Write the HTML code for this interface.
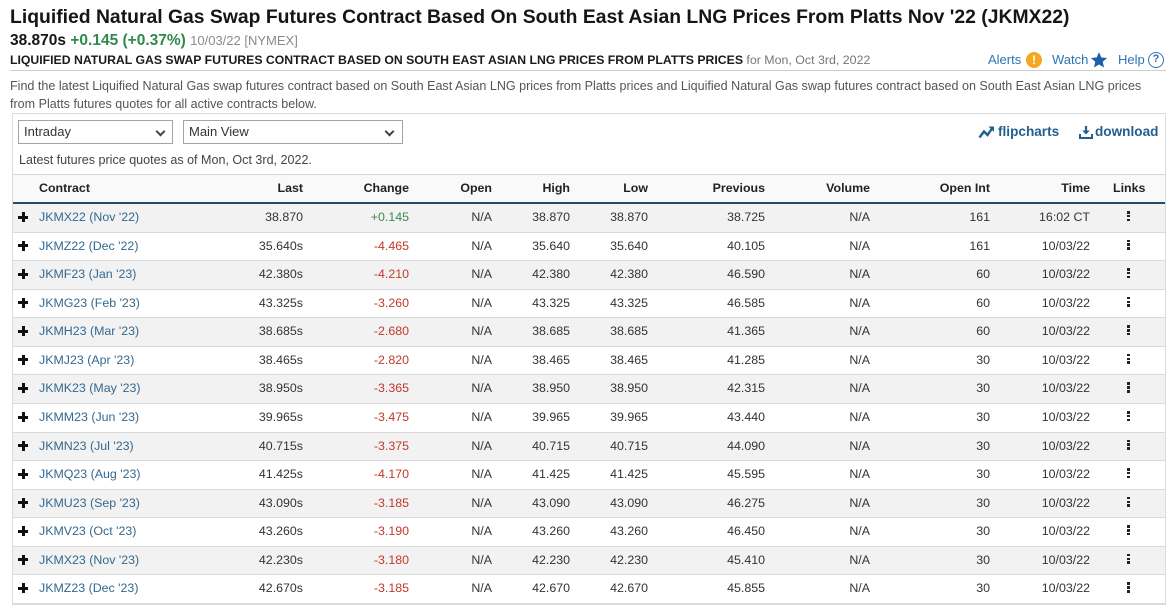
<!DOCTYPE html>
<html><head><meta charset="utf-8">
<style>
*{margin:0;padding:0;box-sizing:border-box}
body{width:1176px;height:613px;background:#fff;font-family:"Liberation Sans",Arial,sans-serif;color:#333;position:relative;overflow:hidden}
.abs{position:absolute;white-space:nowrap}
.title{left:10px;top:4px;font-size:19.35px;font-weight:bold;color:#151515;line-height:26px}
.price{left:10px;top:31px;font-size:15.5px;font-weight:bold;line-height:20px;color:#151515}
.price .g{color:#2f8a4c}
.price .d{font-weight:normal;font-size:13px;color:#8a8a8a}
.sub{left:10px;top:52px;font-size:12.25px;font-weight:bold;color:#1a1a1a;line-height:16px}
.sub span{font-weight:normal;color:#777;font-size:12.4px}
.hr{left:10px;top:70px;width:1156px;height:1px;background:#cfcfcf}
.tools{top:52px;font-size:13px;color:#2f74b5;line-height:16px}
.desc{left:10px;top:77px;font-size:12.55px;color:#555;line-height:18px}
.box{left:12px;top:113px;width:1154px;height:492px;border:1px solid #dcdcdc}
.sel{height:24px;border:1px solid #a5a5a5;font-size:13px;color:#333;line-height:22px;padding-left:5px;background:#fff}
.chev{position:absolute;top:7px;width:7px;height:7px;border-right:2.5px solid #444;border-bottom:2.5px solid #444;transform:rotate(45deg)}
.latest{left:19px;top:152px;font-size:12.55px;color:#444;line-height:16px}
.act{top:124px;font-size:13.6px;font-weight:bold;color:#1f5f8e;line-height:16px}
.thead{left:13px;top:174px;width:1152px;height:30px;border-top:1px solid #d8d8d8;border-bottom:2px solid #1f4d6b;background:#f9f9f9;display:flex;font-weight:bold;font-size:12.4px;color:#222;line-height:27px}
.row{position:absolute;left:13px;width:1152px;height:28.57px;border-bottom:1px solid #dadada;display:flex;font-size:12.4px;color:#333;line-height:26px}
.row.o{background:#f2f2f2}
.c{flex:none;text-align:right;white-space:nowrap;position:relative}
.c0{width:187px;text-align:left;padding-left:26px}
.c1{width:103px}.c2{width:106px}.c3{width:83px}.c4{width:78px}.c5{width:78px}.c6{width:117px}.c7{width:105px}.c8{width:120px}.c9{width:100px}.c10{width:75px;text-align:left;padding-left:23px}
.row .c0{color:#34698f}
.up{color:#3a8a4e}.dn{color:#c0392b}
.plus{position:absolute;left:5px;top:8px;width:10px;height:10px}
.plus:before{content:"";position:absolute;left:0;top:3.5px;width:10px;height:3px;background:#111}
.plus:after{content:"";position:absolute;left:3.5px;top:0;width:3px;height:10px;background:#111}
.dots{position:absolute;left:37px;top:7px;width:3px;height:10px}
.dots i{display:block;width:3px;height:2.5px;background:#222;margin-bottom:1.3px}
</style></head><body>

<div class="abs title">Liquified Natural Gas Swap Futures Contract Based On South East Asian LNG Prices From Platts Nov '22 (JKMX22)</div>
<div class="abs price">38.870s <span class="g">+0.145 (+0.37%)</span> <span class="d">10/03/22 [NYMEX]</span></div>
<div class="abs sub">LIQUIFIED NATURAL GAS SWAP FUTURES CONTRACT BASED ON SOUTH EAST ASIAN LNG PRICES FROM PLATTS PRICES <span>for Mon, Oct 3rd, 2022</span></div>

<div class="abs tools" style="left:988px">Alerts</div>
<div class="abs" style="left:1026px;top:52px;width:16px;height:16px;border-radius:50%;background:#f5a623;color:#fff;font-weight:bold;font-size:12px;text-align:center;line-height:16px">!</div>
<div class="abs tools" style="left:1052px">Watch</div>
<svg class="abs" style="left:1090px;top:51px" width="18" height="18" viewBox="0 0 24 24"><path d="M12 1.5l3.1 7.1 7.7.7-5.8 5.1 1.7 7.6L12 18l-6.7 4 1.7-7.6L1.2 9.3l7.7-.7z" fill="#1d5fa6"/></svg>
<div class="abs tools" style="left:1118px">Help</div>
<div class="abs" style="left:1148px;top:52px;width:16px;height:16px;border-radius:50%;border:1.6px solid #2f74b5;color:#2f74b5;font-weight:bold;font-size:11px;text-align:center;line-height:13px">?</div>
<div class="abs hr"></div>

<div class="abs desc">Find the latest Liquified Natural Gas swap futures contract based on South East Asian LNG prices from Platts prices and Liquified Natural Gas swap futures contract based on South East Asian LNG prices<br>from Platts futures quotes for all active contracts below.</div>

<div class="abs box"></div>
<div class="abs sel" style="left:18px;top:120px;width:155px">Intraday<span class="chev" style="left:138px"></span></div>
<div class="abs sel" style="left:183px;top:120px;width:220px">Main View<span class="chev" style="left:202px"></span></div>
<div class="abs latest">Latest futures price quotes as of Mon, Oct 3rd, 2022.</div>

<svg class="abs" style="left:978px;top:125px" width="17" height="14" viewBox="0 0 17 14"><path d="M1.5 12.5L6 6.5l3.5 3.5L14 3.5" stroke="#1f5f8e" stroke-width="2.4" fill="none"/><path d="M10.5 1.5h5.5v5.5z" fill="#1f5f8e"/></svg>
<div class="abs act" style="left:998px">flipcharts</div>
<svg class="abs" style="left:1079px;top:125px" width="14" height="14" viewBox="0 0 14 14"><path d="M7 1v7.5" stroke="#1f5f8e" stroke-width="2.2"/><path d="M3.3 5.5L7 9.5l3.7-4z" fill="#1f5f8e"/><path d="M1 9v4h12V9" stroke="#1f5f8e" stroke-width="2" fill="none"/></svg>
<div class="abs act" style="left:1095px">download</div>

<div class="abs thead">
<div class="c c0" style="padding-left:26px">Contract</div><div class="c c1">Last</div><div class="c c2">Change</div><div class="c c3">Open</div><div class="c c4">High</div><div class="c c5">Low</div><div class="c c6">Previous</div><div class="c c7">Volume</div><div class="c c8">Open Int</div><div class="c c9">Time</div><div class="c c10" style="padding-left:23px">Links</div>
</div>

<div class="row o" style="top:204px"><div class="c c0"><span class="plus"></span>JKMX22 (Nov '22)</div><div class="c c1">38.870</div><div class="c c2 up">+0.145</div><div class="c c3">N/A</div><div class="c c4">38.870</div><div class="c c5">38.870</div><div class="c c6">38.725</div><div class="c c7">N/A</div><div class="c c8">161</div><div class="c c9">16:02 CT</div><div class="c c10"><span class="dots"><i></i><i></i><i></i></span></div></div>
<div class="row" style="top:232.57px"><div class="c c0"><span class="plus"></span>JKMZ22 (Dec '22)</div><div class="c c1">35.640s</div><div class="c c2 dn">-4.465</div><div class="c c3">N/A</div><div class="c c4">35.640</div><div class="c c5">35.640</div><div class="c c6">40.105</div><div class="c c7">N/A</div><div class="c c8">161</div><div class="c c9">10/03/22</div><div class="c c10"><span class="dots"><i></i><i></i><i></i></span></div></div>
<div class="row o" style="top:261.14px"><div class="c c0"><span class="plus"></span>JKMF23 (Jan '23)</div><div class="c c1">42.380s</div><div class="c c2 dn">-4.210</div><div class="c c3">N/A</div><div class="c c4">42.380</div><div class="c c5">42.380</div><div class="c c6">46.590</div><div class="c c7">N/A</div><div class="c c8">60</div><div class="c c9">10/03/22</div><div class="c c10"><span class="dots"><i></i><i></i><i></i></span></div></div>
<div class="row" style="top:289.71px"><div class="c c0"><span class="plus"></span>JKMG23 (Feb '23)</div><div class="c c1">43.325s</div><div class="c c2 dn">-3.260</div><div class="c c3">N/A</div><div class="c c4">43.325</div><div class="c c5">43.325</div><div class="c c6">46.585</div><div class="c c7">N/A</div><div class="c c8">60</div><div class="c c9">10/03/22</div><div class="c c10"><span class="dots"><i></i><i></i><i></i></span></div></div>
<div class="row o" style="top:318.28px"><div class="c c0"><span class="plus"></span>JKMH23 (Mar '23)</div><div class="c c1">38.685s</div><div class="c c2 dn">-2.680</div><div class="c c3">N/A</div><div class="c c4">38.685</div><div class="c c5">38.685</div><div class="c c6">41.365</div><div class="c c7">N/A</div><div class="c c8">60</div><div class="c c9">10/03/22</div><div class="c c10"><span class="dots"><i></i><i></i><i></i></span></div></div>
<div class="row" style="top:346.85px"><div class="c c0"><span class="plus"></span>JKMJ23 (Apr '23)</div><div class="c c1">38.465s</div><div class="c c2 dn">-2.820</div><div class="c c3">N/A</div><div class="c c4">38.465</div><div class="c c5">38.465</div><div class="c c6">41.285</div><div class="c c7">N/A</div><div class="c c8">30</div><div class="c c9">10/03/22</div><div class="c c10"><span class="dots"><i></i><i></i><i></i></span></div></div>
<div class="row o" style="top:375.42px"><div class="c c0"><span class="plus"></span>JKMK23 (May '23)</div><div class="c c1">38.950s</div><div class="c c2 dn">-3.365</div><div class="c c3">N/A</div><div class="c c4">38.950</div><div class="c c5">38.950</div><div class="c c6">42.315</div><div class="c c7">N/A</div><div class="c c8">30</div><div class="c c9">10/03/22</div><div class="c c10"><span class="dots"><i></i><i></i><i></i></span></div></div>
<div class="row" style="top:404px"><div class="c c0"><span class="plus"></span>JKMM23 (Jun '23)</div><div class="c c1">39.965s</div><div class="c c2 dn">-3.475</div><div class="c c3">N/A</div><div class="c c4">39.965</div><div class="c c5">39.965</div><div class="c c6">43.440</div><div class="c c7">N/A</div><div class="c c8">30</div><div class="c c9">10/03/22</div><div class="c c10"><span class="dots"><i></i><i></i><i></i></span></div></div>
<div class="row o" style="top:432.57px"><div class="c c0"><span class="plus"></span>JKMN23 (Jul '23)</div><div class="c c1">40.715s</div><div class="c c2 dn">-3.375</div><div class="c c3">N/A</div><div class="c c4">40.715</div><div class="c c5">40.715</div><div class="c c6">44.090</div><div class="c c7">N/A</div><div class="c c8">30</div><div class="c c9">10/03/22</div><div class="c c10"><span class="dots"><i></i><i></i><i></i></span></div></div>
<div class="row" style="top:461.14px"><div class="c c0"><span class="plus"></span>JKMQ23 (Aug '23)</div><div class="c c1">41.425s</div><div class="c c2 dn">-4.170</div><div class="c c3">N/A</div><div class="c c4">41.425</div><div class="c c5">41.425</div><div class="c c6">45.595</div><div class="c c7">N/A</div><div class="c c8">30</div><div class="c c9">10/03/22</div><div class="c c10"><span class="dots"><i></i><i></i><i></i></span></div></div>
<div class="row o" style="top:489.71px"><div class="c c0"><span class="plus"></span>JKMU23 (Sep '23)</div><div class="c c1">43.090s</div><div class="c c2 dn">-3.185</div><div class="c c3">N/A</div><div class="c c4">43.090</div><div class="c c5">43.090</div><div class="c c6">46.275</div><div class="c c7">N/A</div><div class="c c8">30</div><div class="c c9">10/03/22</div><div class="c c10"><span class="dots"><i></i><i></i><i></i></span></div></div>
<div class="row" style="top:518.28px"><div class="c c0"><span class="plus"></span>JKMV23 (Oct '23)</div><div class="c c1">43.260s</div><div class="c c2 dn">-3.190</div><div class="c c3">N/A</div><div class="c c4">43.260</div><div class="c c5">43.260</div><div class="c c6">46.450</div><div class="c c7">N/A</div><div class="c c8">30</div><div class="c c9">10/03/22</div><div class="c c10"><span class="dots"><i></i><i></i><i></i></span></div></div>
<div class="row o" style="top:546.85px"><div class="c c0"><span class="plus"></span>JKMX23 (Nov '23)</div><div class="c c1">42.230s</div><div class="c c2 dn">-3.180</div><div class="c c3">N/A</div><div class="c c4">42.230</div><div class="c c5">42.230</div><div class="c c6">45.410</div><div class="c c7">N/A</div><div class="c c8">30</div><div class="c c9">10/03/22</div><div class="c c10"><span class="dots"><i></i><i></i><i></i></span></div></div>
<div class="row" style="top:575.42px"><div class="c c0"><span class="plus"></span>JKMZ23 (Dec '23)</div><div class="c c1">42.670s</div><div class="c c2 dn">-3.185</div><div class="c c3">N/A</div><div class="c c4">42.670</div><div class="c c5">42.670</div><div class="c c6">45.855</div><div class="c c7">N/A</div><div class="c c8">30</div><div class="c c9">10/03/22</div><div class="c c10"><span class="dots"><i></i><i></i><i></i></span></div></div>

</body></html>
